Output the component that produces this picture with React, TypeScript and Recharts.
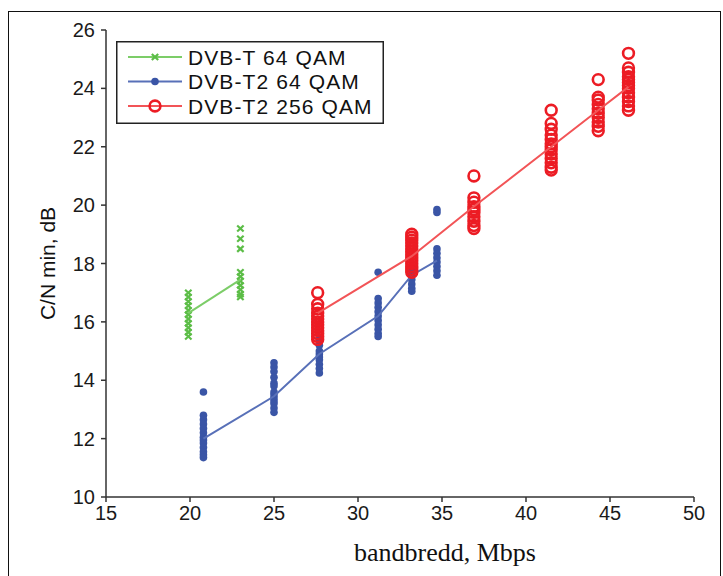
import { ScatterChart, Scatter, XAxis, YAxis, Legend } from 'recharts';

// axis ticks
const xTicks = [15, 20, 25, 30, 35, 40, 45, 50];
const yTicks = [10, 12, 14, 16, 18, 20, 22, 24, 26];

// DVB-T 64 QAM
const t64Rates = [19.9, 23.0];
const t64Values = [
  [17.0, 16.85, 16.7, 16.55, 16.4, 16.25, 16.1, 15.95, 15.8, 15.65, 15.5],
  [19.2, 18.85, 18.5, 17.7, 17.55, 17.4, 17.25, 17.1, 16.95, 16.85],
];
const t64Mean = [16.3, 17.45];

// DVB-T2 64 QAM
const t2_64Rates = [20.8, 25.0, 27.7, 31.2, 33.2, 34.7];
const t2_64Values = [
  [13.6, 12.8, 12.65, 12.5, 12.35, 12.2, 12.05, 11.95, 11.85, 11.7, 11.55, 11.45, 11.35],
  [14.6, 14.45, 14.3, 14.1, 13.9, 13.8, 13.6, 13.5, 13.4, 13.3, 13.2, 13.05, 12.9],
  [15.4, 15.2, 15.0, 14.9, 14.8, 14.7, 14.55, 14.4, 14.25],
  [17.7, 16.8, 16.65, 16.5, 16.35, 16.2, 16.05, 15.9, 15.75, 15.6, 15.5],
  [17.9, 17.75, 17.6, 17.45, 17.3, 17.15, 17.05],
  [19.85, 19.75, 18.5, 18.35, 18.2, 18.05, 17.9, 17.75, 17.6],
];
const t2_64Mean = [12.0, 13.45, 14.9, 16.2, 17.6, 18.1];

// DVB-T2 256 QAM
const t2_256Rates = [27.6, 33.2, 36.9, 41.5, 44.3, 46.1];
const t2_256Values = [
  [17.0, 16.6, 16.45, 16.3, 16.2, 16.1, 16.0, 15.9, 15.8, 15.7, 15.6, 15.5, 15.4],
  [19.0, 18.9, 18.8, 18.7, 18.6, 18.5, 18.4, 18.3, 18.2, 18.1, 18.0, 17.9, 17.8, 17.7],
  [21.0, 20.25, 20.1, 19.95, 19.85, 19.75, 19.6, 19.45, 19.3, 19.2],
  [23.25, 22.8, 22.6, 22.4, 22.25, 22.1, 22.0, 21.9, 21.75, 21.6, 21.45, 21.3, 21.2],
  [24.3, 23.7, 23.6, 23.45, 23.3, 23.15, 23.0, 22.85, 22.7, 22.55],
  [25.2, 24.7, 24.55, 24.4, 24.3, 24.2, 24.1, 24.0, 23.85, 23.7, 23.55, 23.4, 23.25],
];
const t2_256Mean = [16.3, 18.25, 19.95, 22.0, 23.25, 24.05];

const GREEN = '#5cbd47';
const BLUE = '#3a55a6';
const RED = '#ec1c24';
const AXIS = '#333';
const SANS = '"Liberation Sans", Arial, sans-serif';

const points = (rates: number[], values: number[][]) =>
  rates.flatMap((x, i) => values[i].map((y) => ({ x, y })));
const means = (rates: number[], m: number[]) => rates.map((x, i) => ({ x, y: m[i] }));

const Cross = ({ cx, cy }: any) => (
  <g stroke={GREEN} strokeWidth={2.2}>
    <line x1={cx - 3.2} y1={cy - 3} x2={cx + 3.2} y2={cy + 3} />
    <line x1={cx - 3.2} y1={cy + 3} x2={cx + 3.2} y2={cy - 3} />
  </g>
);
const Dot = ({ cx, cy }: any) => <circle cx={cx} cy={cy} r={3.8} fill={BLUE} />;
const Ring = ({ cx, cy }: any) => (
  <circle cx={cx} cy={cy} r={5.4} fill="none" stroke={RED} strokeWidth={2.6} />
);
const Nothing = () => <g />;

const series = [
  { name: 'DVB-T 64 QAM', color: GREEN, line: '#7ccd68', Marker: Cross },
  { name: 'DVB-T2 64 QAM', color: BLUE, line: '#5870b8', Marker: Dot },
  { name: 'DVB-T2 256 QAM', color: RED, line: '#f25457', Marker: Ring },
];

const LegendBox = () => (
  <svg width={268} height={83} style={{ display: 'block' }}>
    <rect x={0.75} y={0.75} width={266.5} height={81.5} fill="#fff" stroke="#222" strokeWidth={1.5} />
    {series.map((s, i) => {
      const y = 16 + i * 24.5;
      return (
        <g key={s.name}>
          <line x1={12} x2={66} y1={y} y2={y} stroke={s.line} strokeWidth={2} />
          <s.Marker cx={39} cy={y} />
          <text x={72} y={y} dominantBaseline="central" fontFamily={SANS} fontSize={21} letterSpacing={1.1} fill="#111">
            {s.name}
          </text>
        </g>
      );
    })}
  </svg>
);

const YTitle = ({ viewBox }: any) => {
  const cy = viewBox.y + viewBox.height / 2;
  return (
    <text x={47} y={cy} transform={`rotate(-90, 47, ${cy})`} textAnchor="middle" dominantBaseline="central"
      fontFamily={SANS} fontSize={21} fill="#111">
      C/N min, dB
    </text>
  );
};

const XTitle = () => (
  <text x={445} y={552} textAnchor="middle" dominantBaseline="central"
    fontFamily='"Liberation Serif", "Times New Roman", serif' fontSize={26} fill="#111">
    bandbredd, Mbps
  </text>
);

const tickStyle = { fontFamily: SANS, fontSize: 20, fill: '#1a1a1a' };

export default function App() {
  return (
    <div style={{ position: 'absolute', left: 0, top: 0, width: 723, height: 576, overflow: 'hidden', background: '#fff' }}>
      <div style={{ position: 'absolute', left: 8, top: 11, width: 713, height: 620, border: '1.5px solid #111', boxSizing: 'border-box' }} />
      <div style={{ position: 'absolute', left: 0, top: 0 }}>
        <ScatterChart width={723} height={576} margin={{ top: 30, right: 29, bottom: 19, left: 0 }}>
          <XAxis type="number" dataKey="x" domain={[15, 50]} ticks={xTicks} height={60}
            stroke={AXIS} strokeWidth={1.5} tickSize={5} tickMargin={4} tick={tickStyle}
            label={{ content: XTitle }} />
          <YAxis type="number" dataKey="y" domain={[10, 26]} ticks={yTicks} width={106}
            stroke={AXIS} strokeWidth={1.5} tickSize={5} tickMargin={6} tick={tickStyle}
            label={{ content: YTitle }} />
          <Legend layout="vertical" align="center" verticalAlign="middle" content={LegendBox}
            wrapperStyle={{ left: 116, top: 41, width: 268, height: 83 }} />
          <Scatter name="DVB-T 64 QAM" data={points(t64Rates, t64Values)} shape={Cross} isAnimationActive={false} />
          <Scatter name="DVB-T 64 QAM mean" data={means(t64Rates, t64Mean)} shape={Nothing}
            line={{ stroke: series[0].line, strokeWidth: 2 }} legendType="none" isAnimationActive={false} />
          <Scatter name="DVB-T2 64 QAM" data={points(t2_64Rates, t2_64Values)} shape={Dot} isAnimationActive={false} />
          <Scatter name="DVB-T2 64 QAM mean" data={means(t2_64Rates, t2_64Mean)} shape={Nothing}
            line={{ stroke: series[1].line, strokeWidth: 2 }} legendType="none" isAnimationActive={false} />
          <Scatter name="DVB-T2 256 QAM" data={points(t2_256Rates, t2_256Values)} shape={Ring} isAnimationActive={false} />
          <Scatter name="DVB-T2 256 QAM mean" data={means(t2_256Rates, t2_256Mean)} shape={Nothing}
            line={{ stroke: series[2].line, strokeWidth: 2 }} legendType="none" isAnimationActive={false} />
        </ScatterChart>
      </div>
    </div>
  );
}
